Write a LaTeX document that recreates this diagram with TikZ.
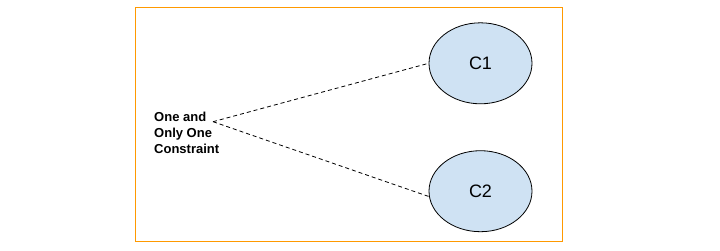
\documentclass[tikz,border=0pt]{standalone}
\usepackage{fontspec}
\setmainfont{Liberation Sans}
\usetikzlibrary{shapes.geometric}
\definecolor{frame}{HTML}{FF9900}
\definecolor{cfill}{HTML}{CFE2F3}
\definecolor{txt}{HTML}{000000}

\begin{document}
\begin{tikzpicture}[
  x=1pt, y=-1pt,
  cset/.style={ellipse, draw=txt, fill=cfill, line width=0.8pt, minimum width=103pt, minimum height=81pt, inner sep=0pt, font=\fontsize{18}{21}\selectfont},
  label/.style={align=left, inner sep=0pt, font=\fontsize{13}{16}\selectfont\bfseries},
  link/.style={dash pattern=on 4pt off 3pt, line width=0.8pt, color=txt},
]
\useasboundingbox (0,0) rectangle (720,250);
\draw[frame, line width=1.3pt] (135.7,7.5) rectangle (562.3,241.7);

\node[label, anchor=west] (oneone) at (154,133) {One and\\Only One\\Constraint};
\coordinate (oneend) at (213,121.7);

\node[cset] (c1) at (480.5,63.3) {C1};
\node[cset] (c2) at (480.5,191.2) {C2};

\draw[link] (oneend) -- (c1.west);
\draw[link] (oneend) -- (c2.186);

\end{tikzpicture}
\end{document}
